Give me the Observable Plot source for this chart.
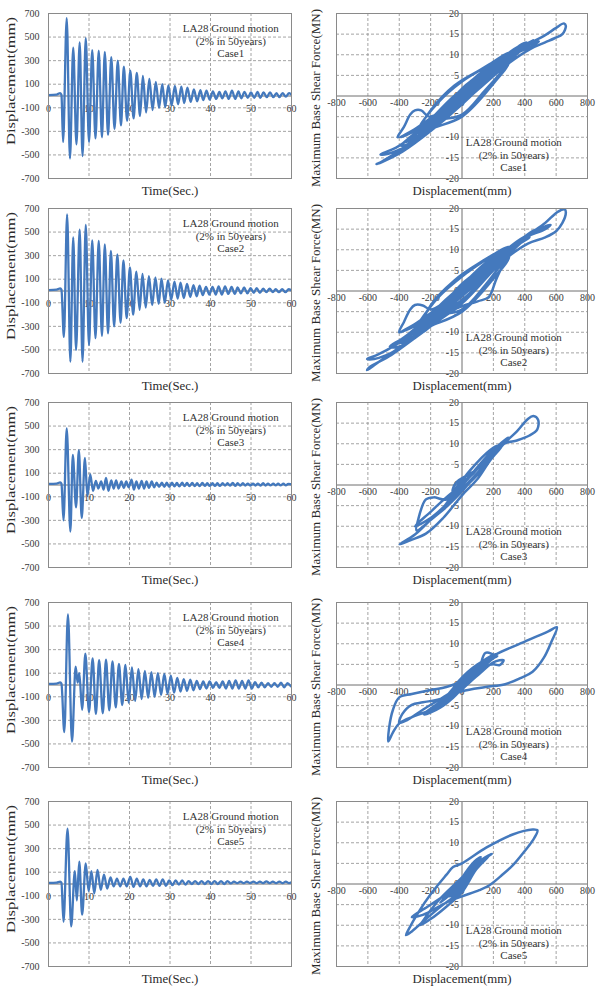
<!DOCTYPE html>
<html>
<head>
<meta charset="utf-8">
<script src="https://cdn.jsdelivr.net/npm/d3@7"></script>
<script src="https://cdn.jsdelivr.net/npm/@observablehq/plot@0.6"></script>
<style>
  html, body { margin: 0; padding: 0; background: #fff; }
  #sheet { position: relative; width: 598px; height: 993px; overflow: hidden; background: #fff; }
  #sheet svg { position: absolute; }
</style>
</head>
<body>
<div id="sheet"></div>
<script>
// ---- Axis ticks ----------------------------------------------------------
const dispTicks = [700, 500, 300, 100, -100, -300, -500, -700];
const timeTicks = [0, 10, 20, 30, 40, 50, 60];
const shearTicks = [20, 15, 10, 5, 0, -5, -10, -15, -20];
const hDispTicks = [-800, -600, -400, -200, 0, 200, 400, 600, 800];

const cases = ["Case1", "Case2", "Case3", "Case4", "Case5"];
const motion = ["LA28 Ground motion", "(2% in 50years)"];

// ---- Roof displacement time histories: [time (s), displacement (mm)] at each peak
const disp1 = [[0,8],[2.0,12],[2.9,25],[3.2,10],
  [3.6,-390],[4.5,660],[5.3,-530],[6.1,410],[6.9,-410],[7.7,455],[8.4,-510],[9.2,490],[10.0,-390],[10.8,390],
  [11.6,-360],[12.4,385],[13.2,-350],[13.9,375],[14.7,-330],[15.5,330],[16.3,-280],[17.1,300],[17.9,-250],
  [18.6,250],[19.4,-210],[20.2,215],[21.0,-190],[21.8,195],[22.6,-170],[23.3,170],[24.1,-140],[24.9,145],
  [25.7,-120],[26.5,120],[27.3,-100],[28.1,100],[28.8,-95],[29.6,90],[30.4,-80],[31.2,85],[32.0,-70],[32.8,80],
  [33.5,-60],[34.3,70],[35.1,-50],[35.9,55],[36.7,-45],[37.5,50],[38.2,-35],[39.0,45],[39.8,-30],[40.6,40],
  [41.4,-25],[42.2,35],[42.9,-20],[43.7,40],[44.5,-25],[45.3,45],[46.1,-25],[46.9,40],[47.6,-20],[48.4,35],
  [49.2,-15],[50.0,30],[50.8,-15],[51.6,35],[52.3,-15],[53.1,30],[53.9,-10],[54.7,30],[55.5,-10],[56.3,25],
  [57.0,-10],[57.8,25],[58.6,-5],[59.4,25],[60,10]];

const disp2 = [[0,8],[2.0,12],[2.9,22],[3.2,10],
  [3.8,-390],[4.6,650],[5.4,-600],[6.1,455],[6.8,-500],[7.7,520],[8.4,-600],[9.2,560],[10.0,-460],[10.8,430],
  [11.6,-400],[12.4,425],[13.2,-380],[13.9,395],[14.7,-360],[15.4,340],[16.2,-300],[17.0,310],[17.8,-270],
  [18.5,260],[19.3,-230],[20.1,200],[20.9,-200],[21.7,165],[22.5,-160],[23.2,145],[24.0,-140],[24.8,125],
  [25.6,-120],[26.4,115],[27.2,-110],[27.9,105],[28.7,-100],[29.5,90],[30.3,-75],[31.1,80],[31.9,-65],[32.6,70],
  [33.4,-60],[34.2,60],[35.0,-50],[35.8,50],[36.6,-45],[37.3,45],[38.1,-35],[38.9,35],[39.7,-30],[40.5,35],
  [41.3,-30],[42.0,40],[42.8,-30],[43.6,40],[44.4,-25],[45.2,35],[46.0,-25],[46.7,30],[47.5,-20],[48.3,30],
  [49.1,-20],[49.9,25],[50.7,-15],[51.4,25],[52.2,-15],[53.0,20],[53.8,-10],[54.6,20],[55.4,-10],[56.1,15],
  [56.9,-10],[57.7,15],[58.5,-10],[59.3,15],[60,5]];

const disp3 = [[0,10],[2.0,12],[2.9,22],[3.2,10],
  [3.7,-300],[4.5,480],[5.4,-395],[6.0,255],[6.8,-190],[7.5,295],[8.2,-280],[9.0,230],[9.6,-95],[10.3,90],
  [11.0,-50],[11.7,35],[12.3,-30],[13.0,30],[13.6,-40],[14.2,60],[14.8,-50],[15.5,40],[16.1,-30],[16.7,40],
  [17.3,-30],[18.0,30],[18.6,-25],[19.2,30],[19.8,-20],[20.5,45],[21.1,-40],[21.7,30],[22.3,-30],[23.0,35],
  [23.6,-30],[24.2,30],[24.8,-25],[25.5,30],[26.1,-20],[26.7,20],[27.3,-15],[28.0,20],[28.6,-15],[29.2,20],
  [29.8,-15],[30.5,20],[31.1,-12],[31.7,18],[32.3,-12],[33.0,20],[33.6,-10],[34.2,18],[34.8,-10],[35.5,18],
  [36.1,-10],[36.7,15],[37.3,-10],[38.0,18],[38.6,-8],[39.2,15],[39.8,-8],[40.5,15],[41.1,-8],[41.7,15],
  [42.3,-8],[43.0,15],[43.6,-5],[44.2,15],[44.8,-5],[45.5,18],[46.1,-8],[46.7,15],[47.3,-5],[48.0,15],
  [48.6,-5],[49.2,12],[49.8,-5],[50.5,12],[51.1,-5],[51.7,12],[52.3,-5],[53.0,15],[53.6,-5],[54.2,12],
  [54.8,-3],[55.5,12],[56.1,-3],[56.7,12],[57.3,-3],[58.0,12],[58.6,-3],[59.2,10],[60,5]];

const disp4 = [[0,10],[2.0,12],[2.9,22],[3.2,10],
  [3.9,-400],[4.8,600],[5.8,-480],[6.7,155],[7.2,20],[7.6,100],[8.3,-210],[9.1,265],[10.0,-230],[10.9,225],
  [11.7,-245],[12.5,210],[13.4,-240],[14.2,215],[15.0,-215],[15.8,200],[16.6,-190],[17.4,180],[18.2,-170],
  [19.0,170],[19.8,-150],[20.6,150],[21.4,-135],[22.2,135],[23.0,-120],[23.8,120],[24.6,-110],[25.4,110],
  [26.2,-100],[27.0,100],[27.8,-85],[28.6,95],[29.4,-75],[30.2,80],[31.0,-65],[31.8,60],[32.6,-55],[33.4,50],
  [34.2,-50],[35.0,45],[35.8,-45],[36.6,35],[37.4,-35],[38.2,30],[39.0,-30],[39.8,30],[40.6,-25],[41.4,25],
  [42.2,-25],[43.0,30],[43.8,-30],[44.6,35],[45.4,-30],[46.2,40],[47.0,-30],[47.8,35],[48.6,-30],[49.4,40],
  [50.2,-30],[51.0,25],[51.8,-20],[52.6,20],[53.4,-20],[54.2,15],[55.0,-15],[55.8,15],[56.6,-15],[57.4,20],
  [58.2,-20],[59.0,15],[59.8,-10]];

const disp5 = [[0,10],[2.0,12],[2.9,20],[3.2,10],
  [3.7,-320],[4.7,470],[5.6,-360],[6.5,110],[7.0,-140],[7.6,190],[8.3,-260],[9.2,175],[9.9,-60],[10.6,110],
  [11.3,-80],[12.1,120],[12.9,-50],[13.7,80],[14.5,-40],[15.3,55],[16.1,-20],[16.9,45],[17.7,-20],[18.5,45],
  [19.3,-20],[20.2,60],[21.0,-25],[21.8,45],[22.6,-20],[23.4,40],[24.2,-20],[25.0,35],[25.8,-15],[26.6,40],
  [27.4,-15],[28.2,40],[29.0,-15],[29.8,30],[30.6,-10],[31.4,30],[32.2,-5],[33.0,30],[33.8,-5],[34.6,25],
  [35.4,0],[36.2,25],[37.0,0],[37.8,25],[38.6,0],[39.4,25],[40.2,0],[41.0,25],[41.8,0],[42.6,25],[43.4,0],
  [44.2,25],[45.0,5],[45.8,20],[46.6,8],[47.4,20],[48.2,8],[49.0,20],[49.8,8],[50.6,20],[51.4,8],[52.2,20],
  [53.0,8],[53.8,22],[54.6,8],[55.4,20],[56.2,8],[57.0,20],[57.8,8],[58.6,20],[59.4,8],[60,15]];

// ---- Base shear vs displacement paths: [displacement (mm), shear (MN)] in time order
const hyst1 = [[0,0],[-150,-4],[-300,-8],[-390,-10],
  [-250,-7.5],[-50,-2.5],[150,3.5],[300,9],[420,12.5],[520,14.5],[600,16.5],[650,17.6],[662,17],[640,15],
  [590,14],[530,13],[440,11.5],[300,8],[100,1.5],[-100,-5],[-300,-11],[-450,-14.5],[-530,-16.3],[-545,-16.5],[-510,-16],
  [-380,-13.5],[-200,-8.5],[0,-2],[200,5.5],[330,11],[410,13],[380,12.5],[250,8.5],[50,2],[-150,-4],[-300,-8],[-410,-10],
  [-370,-7.5],[-330,-4.5],[-300,-3.5],[-260,-3.5],[-210,-5],[-100,-3],[50,1.5],[250,8],[380,12],[455,13.5],[430,13],
  [320,10.5],[150,5],[-50,-1.5],[-250,-8],[-420,-12.5],[-500,-13.8],[-520,-14.2],[-470,-14],
  [-320,-11.5],[-120,-5.5],[100,1.5],[300,8.5],[430,12.5],[490,13.2],[450,12.2],[300,9.5],[100,3.5],[-100,-2.5],[-280,-8.5],[-390,-12],
  [-330,-11.5],[-150,-6.5],[50,0],[250,7.5],[360,11.5],[390,12.3],[330,11.2],[150,5.5],[-50,-0.5],[-250,-7.5],[-360,-11],
  [-300,-10.5],[-100,-4.5],[100,2],[280,9.5],[385,12.5],[320,11],[150,5.5],[-50,-0.5],[-230,-7],[-350,-10.8],
  [-280,-10],[-100,-4],[100,2.5],[270,9.5],[375,12.2],[310,10.8],[150,5.5],[-50,0],[-220,-6.5],[-330,-10.5],
  [-250,-9],[-80,-3.5],[100,3],[250,9],[330,11],[270,9.5],[100,4.5],[-80,-1.5],[-200,-6],[-280,-9],
  [-220,-8],[-60,-3],[100,3],[220,8],[300,10.3],[240,9],[80,4],[-80,-1.5],[-180,-5.5],[-250,-8.5],
  [-150,-6],[0,-4.5],[150,1.5],[300,8],[350,10.5],[300,10.5],[150,7],[0,3.5],[-150,-1.5],[-280,-8],[-300,-10],
  [-200,-8],[0,-5],[200,3],[300,8.5],[250,9],[100,6],[-50,2.5],[-200,-3.5],[-260,-7.5],
  [-200,-7.5],[-50,-2.5],[100,3.5],[250,9],[200,8],[60,3.5],[-80,-2],[-210,-7.5],
  [-150,-6],[0,-1],[130,4.5],[215,8],[170,7],[40,3],[-80,-2],[-190,-6.8],
  [-130,-5.5],[0,-1],[120,4.5],[195,7.5],[150,6.5],[30,2.5],[-70,-2],[-170,-6.3],
  [-120,-5],[0,-0.5],[100,4],[170,6.5],[120,5.5],[0,1.5],[-140,-5.5],
  [-80,-4],[30,0.5],[145,5.5],[90,4.5],[-20,1],[-120,-4.8],
  [-70,-3.5],[30,0.8],[120,4.8],[70,3.8],[-30,0.5],[-100,-4.2],
  [-50,-2.5],[40,1.5],[100,4.2],[50,3],[-40,0],[-95,-4],
  [-40,-2],[40,1.8],[90,4],[30,2.5],[-50,-0.5],[-80,-3.5],[-30,-1.5],[40,2],[80,3.5],[20,1.5],[-50,-1],[-60,-3],[0,0],[50,2.5],[30,2]];

const hyst2 = [[0,0],[-150,-4],[-300,-8],[-390,-10],
  [-250,-7.5],[-50,-2],[150,4],[300,10],[420,13.5],[530,16.5],[610,19.2],[655,19.8],[662,19],[640,16.5],[600,14.5],
  [530,13],[420,11.5],[300,8.5],[100,2],[-100,-4.5],[-300,-11],[-450,-15],[-560,-18],[-605,-19.2],[-590,-18.5],
  [-450,-15.5],[-250,-10],[-50,-4.5],[100,-2.5],[170,-1.5],[220,3],[300,9],[400,13],[455,14.5],[430,14],[300,10],
  [100,3.5],[-100,-3],[-300,-8],[-400,-10],
  [-370,-7.5],[-330,-4.5],[-300,-3.4],[-250,-3.5],[-200,-4.5],[-100,-2.5],[100,3],[300,10],[450,14.5],[520,15.5],
  [490,15],[350,12],[150,5.5],[-50,-1.5],[-250,-8.5],[-420,-13],[-540,-15.5],[-605,-16.5],[-560,-16.5],
  [-400,-14],[-200,-8.5],[0,-3],[200,5],[400,12.5],[520,15.5],[565,16],[530,15],[380,12.5],[200,7],[0,0],[-200,-6.5],[-380,-11.5],[-460,-13.5],
  [-400,-13.5],[-200,-8],[0,-2.5],[200,5.5],[350,11],[430,13],[400,12.8],[250,9],[50,2.5],[-150,-5],[-300,-9.5],[-400,-12.5],
  [-340,-12],[-150,-6.5],[50,-0.5],[250,7.5],[380,12],[425,13],[370,12.3],[200,7.5],[0,0.5],[-200,-6],[-380,-12],
  [-300,-11],[-100,-4.5],[100,2.5],[300,10],[395,12.5],[340,11.5],[150,6],[-50,-0.5],[-250,-8],[-360,-11.5],
  [-280,-10.5],[-100,-4],[100,3],[260,9],[340,11.3],[280,10],[100,4.5],[-100,-2],[-220,-6.5],[-300,-9.5],
  [-240,-9],[-80,-3.5],[100,3],[240,8.5],[310,10.5],[250,9.5],[80,4],[-80,-1.5],[-200,-6.3],[-270,-9],
  [-150,-6],[0,-4.5],[150,1.5],[280,8],[330,10.5],[280,10.5],[150,7.5],[0,3.5],[-150,-1.5],[-280,-8],[-320,-10.5],
  [-200,-8.5],[0,-5],[200,3],[300,8.5],[250,9.5],[100,6.5],[-50,2.5],[-200,-3.5],[-250,-8],
  [-200,-8],[-50,-2.5],[100,3.5],[200,7.5],[260,9.5],[200,8.3],[50,3.3],[-100,-2.5],[-230,-8],
  [-170,-6.8],[-30,-2],[100,3.8],[200,8],[150,6.8],[30,2.5],[-100,-3],[-200,-7],
  [-140,-6],[0,-1],[120,4.5],[165,6.5],[110,5],[-20,1],[-160,-6],
  [-110,-5],[10,-0.5],[110,4.5],[145,6],[90,4.5],[-30,0.5],[-140,-5.5],
  [-90,-4.2],[20,0],[125,5.3],[70,3.8],[-40,0],[-120,-5],[-70,-3.5],[30,0.5],[115,5],[60,3.5],[-40,0],[-110,-4.6],
  [-60,-3],[30,1],[100,4.5],[50,3],[-40,0],[-100,-4.2],[-40,-2],[40,1.5],[90,4],[30,2.5],[-40,-0.5],[-75,-3.2],[0,0],[60,2.8],[20,1.5]];

const hyst3 = [[0,0],[-100,-3],[-200,-6.5],[-300,-10],
  [-200,-8],[-50,-3],[100,2.5],[200,7],[280,10.5],[350,13],[420,16],[455,16.7],[485,15.8],[480,13.5],[430,12],
  [350,10.8],[270,10],[150,5],[0,-1],[-150,-6.5],[-300,-12],[-397,-14.4],
  [-330,-13.4],[-230,-11.8],[-120,-8],[0,-2.5],[100,1.5],[180,6],[255,9.5],[200,8.5],[80,3.5],[-50,-2],[-120,-5.5],[-190,-8],
  [-120,-6],[0,-1.5],[100,3],[200,7.5],[260,10],[295,11.5],[250,10.2],[150,6],[0,0],[-100,-3.5],[-180,-3],[-230,-3.5],[-280,-8.5],[-290,-11],
  [-200,-8.5],[-50,-3.5],[80,2],[180,7],[230,9.5],[180,8.5],[50,3.5],[-50,-1.5],[-95,-3.5],
  [-30,-1.5],[50,2],[90,3.5],[40,2.5],[-40,0.5],[-60,-1.5],[-20,0],[40,1.5],[20,1.5],[-30,0],[0,0.5],[20,1],[0,0]];

const hyst4 = [[0,0],[-100,-2.5],[-250,-6],[-350,-8.5],[-400,-9.2],[-380,-7],[-320,-4.8],[-250,-4.2],[-150,-3.5],
  [0,-1.5],[150,-0.5],[275,0.2],[380,1.8],[450,3.2],[520,6.5],[570,10.5],[605,14],[550,13],[400,10.5],[212,7.3],
  [100,4.2],[0,1],[-100,-0.5],[-200,-1.2],[-320,-2.2],[-400,-3],[-440,-6],[-465,-10.5],[-470,-13.7],[-440,-11.5],
  [-400,-9.3],[-300,-7.5],[-200,-6],[-100,-3.5],[0,-1],[80,2],[155,4.5],
  [100,3.5],[40,2],[20,1],[60,2.5],[100,3.5],
  [0,-1],[-100,-4],[-210,-6.5],
  [-120,-5],[0,-1],[120,3],[200,5.5],[265,6],[240,4.8],[200,5],[150,4.5],[0,0],[-120,-4],[-230,-6.8],
  [-130,-5],[0,-1],[100,3],[200,6.5],[225,7],[150,6],[0,1],[-120,-3.5],[-245,-7],
  [-150,-5.5],[0,-1],[100,3],[150,7.8],[210,7],[150,6],[30,2],[-100,-3],[-240,-7.2],
  [-140,-5.5],[0,-1],[110,3.5],[215,7.5],[140,6],[0,1],[-110,-3.5],[-215,-6.8],
  [-120,-5],[0,-0.5],[120,4],[200,7],[120,5.5],[0,1],[-100,-3.2],[-190,-6.2],
  [-100,-4.5],[20,0],[110,4],[180,6.5],[100,5],[-20,1],[-100,-3.2],[-170,-5.8],
  [-90,-4],[20,0],[100,3.8],[170,6.3],[90,4.5],[-20,0.8],[-90,-3],[-150,-5.2],
  [-70,-3.5],[30,0.5],[150,5.8],[80,4],[-30,0.3],[-135,-4.8],
  [-60,-3],[30,0.5],[135,5.3],[70,3.5],[-30,0],[-120,-4.4],
  [-50,-2.5],[40,1],[120,4.8],[60,3],[-30,0],[-110,-4],
  [-40,-2.2],[40,1.2],[110,4.5],[50,2.8],[-30,-0.2],[-100,-3.7],
  [-30,-1.8],[50,1.8],[95,4],[30,2],[-40,-0.8],[-85,-3.3],[-20,-1],[50,2],[80,3.5],[20,1.5],[-40,-1],[-75,-3],
  [0,0],[50,2.2],[40,2.5],[0,0.5],[-30,-1.2]];

const hyst5 = [[0,0],[-100,-2.5],[-220,-5.5],[-320,-8],
  [-250,-7.5],[-100,-4.5],[0,-3],[110,-1.5],[175,-0.3],[250,2],[323,4.5],[400,8],[450,10.5],[481,13],[450,13.2],
  [323,12],[154,8.8],[0,5],[-57,4.1],[-100,2.2],[-200,-2.5],[-280,-7],[-340,-11],[-357,-12.4],
  [-320,-11.5],[-230,-8.5],[-120,-5],[0,-1.5],[60,2.5],[110,5],
  [50,3],[-40,-0.5],[-140,-4.5],
  [-60,-2],[50,2.5],[130,6],[190,7.3],[170,6.8],[80,4.5],[-30,0.5],[-150,-4],[-250,-9],[-265,-10],
  [-200,-8.5],[-100,-5.5],[0,-2],[90,3.5],[175,7],[150,6.5],[60,3.5],[-20,0.5],[-60,-2],
  [0,-0.5],[60,3],[110,5.5],[70,4.5],[0,1],[-80,-3],
  [-20,-1.5],[60,3],[120,6.5],[80,5.5],[0,1.5],[-50,-2],
  [0,-0.5],[50,2.8],[80,4.5],[40,3.5],[-20,0],[-40,-1.5],[10,0.5],[55,3.5],[30,2.5],[-10,0],[-20,-1],[20,1.5],[45,3],[20,2],[0,0.5]];

const histories = [disp1, disp2, disp3, disp4, disp5];
const loops = [hyst1, hyst2, hyst3, hyst4, hyst5];

// ---- Styling --------------------------------------------------------------
const BLUE = "#4479bd";
const GRID = "#9a9a9a";
const FRAME = "#8a8a8a";
const AXIS = "#6f6f6f";
const INK = "#333";
const SERIF = "'Liberation Serif', 'Times New Roman', 'DejaVu Serif', serif";
const rowTops = [13, 208, 402, 602, 801];   // top edge of each row's plotting frame
const M_TOP = 10, M_BOTTOM = 25, FRAME_H = 165;

const sheet = document.getElementById("sheet");
const baseStyle = {fontFamily: SERIF, background: "transparent", overflow: "visible", color: INK};
const dashed = {stroke: GRID, strokeOpacity: 1, strokeWidth: 0.9, strokeDasharray: "3,2"};
const tickText = {fontSize: 10, fill: "#3a3a3a", fontFamily: SERIF};
const titleText = {fontSize: 12.8, fill: "#2a2a2a", fontFamily: SERIF, textAnchor: "middle", lineAnchor: "middle"};

function place(svg, left, top) {
  svg.style.left = left + "px";
  svg.style.top = top + "px";
  sheet.appendChild(svg);
}

// Left column: displacement time history
function historyPanel(data, caseName, row) {
  const svg = Plot.plot({
    width: 300, height: FRAME_H + M_TOP + M_BOTTOM,
    marginLeft: 48, marginRight: 9, marginTop: M_TOP, marginBottom: M_BOTTOM,
    x: {domain: [0, 60], axis: null},
    y: {domain: [-700, 700], axis: null},
    style: baseStyle,
    marks: [
      Plot.gridX(timeTicks.slice(1, -1), dashed),
      Plot.gridY(dispTicks.slice(1, -1), dashed),
      Plot.ruleY([0], {stroke: AXIS, strokeWidth: 1}),
      Plot.text(dispTicks, {...tickText, y: d => d, text: d => String(d), frameAnchor: "left", textAnchor: "end", dx: -9}),
      Plot.text(timeTicks, {...tickText, x: d => d, y: () => 0, text: d => String(d), dy: 13}),
      Plot.text([[...motion, caseName].join("\n")], {x: () => 45, y: () => 471, fontSize: 11, lineHeight: 1.15, fill: INK, fontFamily: SERIF}),
      Plot.line(data, {x: d => d[0], y: d => d[1], curve: "monotone-x", stroke: BLUE, strokeWidth: 2.3, clip: true}),
      Plot.frame({stroke: FRAME, strokeWidth: 1}),
      Plot.text(["Time(Sec.)"], {...titleText, frameAnchor: "bottom", dy: 12}),
      Plot.text(["Displacement(mm)"], {...titleText, fontSize: 13, frameAnchor: "left", rotate: -90, dx: -38, dy: -15})
    ]
  });
  // the vertical title is drawn taller than its natural width
  d3.select(svg).selectAll("text")
    .filter(function () { return this.textContent === "Displacement(mm)"; })
    .attr("textLength", 128).attr("lengthAdjust", "spacingAndGlyphs");
  place(svg, 0, rowTops[row] - M_TOP);
}

// Right column: base shear vs displacement
function loopPanel(data, caseName, row) {
  const svg = Plot.plot({
    width: 298, height: FRAME_H + M_TOP + M_BOTTOM,
    marginLeft: 36, marginRight: 11, marginTop: M_TOP, marginBottom: M_BOTTOM,
    x: {domain: [-800, 800], axis: null},
    y: {domain: [-20, 20], axis: null},
    style: baseStyle,
    marks: [
      Plot.gridX(hDispTicks.filter(d => d !== 0 && Math.abs(d) !== 800), dashed),
      Plot.gridY(shearTicks.filter(d => d !== 0 && Math.abs(d) !== 20), dashed),
      Plot.ruleX([0], {stroke: AXIS, strokeWidth: 1}),
      Plot.ruleY([0], {stroke: AXIS, strokeWidth: 1}),
      Plot.text(shearTicks, {...tickText, x: () => 0, y: d => d, text: d => String(d), textAnchor: "end", dx: -3}),
      Plot.text(hDispTicks, {...tickText, x: d => d, y: () => 0, text: d => String(d), dy: 7}),
      Plot.text([[...motion, caseName].join("\n")], {x: () => 330, y: () => -14.2, fontSize: 11, lineHeight: 1.15, fill: INK, fontFamily: SERIF}),
      Plot.line(data, {x: d => d[0], y: d => d[1], curve: "catmull-rom", stroke: BLUE, strokeWidth: 2.5, strokeLinejoin: "round", clip: true}),
      Plot.frame({stroke: FRAME, strokeWidth: 1}),
      Plot.text(["Displacement(mm)"], {...titleText, frameAnchor: "bottom", dy: 12}),
      Plot.text(["Maximum Base Shear Force(MN)"], {...titleText, fontSize: 13, frameAnchor: "left", rotate: -90, dx: -21, dy: 2})
    ]
  });
  place(svg, 300, rowTops[row] - M_TOP);
}

cases.forEach((c, i) => {
  historyPanel(histories[i], c, i);
  loopPanel(loops[i], c, i);
});
</script>
</body>
</html>
